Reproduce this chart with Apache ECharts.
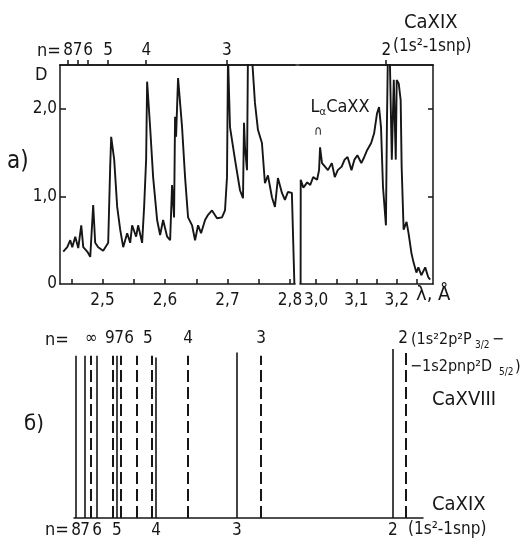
<!DOCTYPE html>
<html lang="ru">
<head>
<meta charset="UTF-8">
<title>CaXIX, CaXVIII</title>
<style>
  html, body { margin: 0; padding: 0; background: #fff; }
  #chart { width: 530px; height: 541px; }
</style>
</head>
<body>
<div id="chart"></div>
<script src="https://cdn.jsdelivr.net/npm/echarts@6/dist/echarts.min.js"></script>
<script>
// a) спектр, левая часть (λ, Å / D)
var lamLeft = [2.4372, 2.4436, 2.4484, 2.4516, 2.4564, 2.4612, 2.4660, 2.4692, 2.4756, 2.4804,
  2.4851, 2.4883, 2.4931, 2.5011, 2.5091, 2.5123, 2.5139, 2.5187, 2.5235, 2.5283,
  2.5331, 2.5395, 2.5443, 2.5474, 2.5538, 2.5570, 2.5634, 2.5666, 2.5698, 2.5714,
  2.5762, 2.5810, 2.5874, 2.5922, 2.5970, 2.6034, 2.6082, 2.6113, 2.6145, 2.6161,
  2.6177, 2.6209, 2.6273, 2.6321, 2.6369, 2.6433, 2.6481, 2.6529, 2.6577, 2.6641,
  2.6689, 2.6752, 2.6832, 2.6912, 2.6960, 2.6992, 2.7008, 2.7040, 2.7120, 2.7200,
  2.7248, 2.7264, 2.7280, 2.7312, 2.7327, 2.7391, 2.7439, 2.7487, 2.7551, 2.7599,
  2.7647, 2.7711, 2.7759, 2.7807, 2.7871, 2.7919, 2.7966, 2.8030, 2.8062, 2.8070];
var dLeft = [0.37, 0.42, 0.50, 0.42, 0.54, 0.41, 0.67, 0.42, 0.37, 0.31,
  0.90, 0.47, 0.42, 0.38, 0.47, 1.34, 1.68, 1.42, 0.88, 0.62,
  0.42, 0.58, 0.47, 0.67, 0.54, 0.67, 0.47, 0.88, 1.42, 2.31,
  1.79, 1.22, 0.73, 0.56, 0.73, 0.54, 0.50, 1.13, 0.76, 1.91,
  1.68, 2.35, 1.79, 1.22, 0.76, 0.67, 0.50, 0.67, 0.58, 0.73,
  0.79, 0.84, 0.75, 0.76, 0.84, 1.22, 2.60, 1.79, 1.42, 1.07,
  0.98, 1.84, 1.56, 1.30, 2.60, 2.60, 2.07, 1.76, 1.61, 1.15,
  1.24, 0.99, 0.88, 1.21, 1.04, 0.96, 1.05, 1.04, 1.02, 0.0];

// a) спектр, правая часть
var lamRight = [2.9615, 2.9618, 2.9683, 2.9780, 2.9854, 2.9927, 3.0024, 3.0073, 3.0098, 3.0146,
  3.0220, 3.0293, 3.0390, 3.0463, 3.0537, 3.0634, 3.0707, 3.0780, 3.0878, 3.0951,
  3.1024, 3.1122, 3.1195, 3.1268, 3.1366, 3.1439, 3.1512, 3.1561, 3.1610, 3.1659,
  3.1732, 3.1756, 3.1780, 3.1830, 3.1878, 3.1927, 3.1976, 3.2000, 3.2049, 3.2098,
  3.2122, 3.2171, 3.2244, 3.2293, 3.2366, 3.2415, 3.2488, 3.2537, 3.2610, 3.2707,
  3.2780, 3.2829];
var dRight = [0.0, 1.19, 1.10, 1.16, 1.13, 1.22, 1.19, 1.30, 1.56, 1.38,
  1.34, 1.30, 1.38, 1.22, 1.30, 1.34, 1.42, 1.45, 1.30, 1.42,
  1.47, 1.38, 1.45, 1.53, 1.61, 1.72, 1.95, 2.02, 1.79, 1.11,
  0.67, 1.79, 2.60, 2.55, 1.42, 2.33, 1.42, 2.33, 2.29, 2.10,
  1.34, 0.62, 0.71, 0.58, 0.35, 0.25, 0.13, 0.19, 0.10, 0.19,
  0.08, 0.05];

// линии CaXIX 1s2-1snp на верхней шкале
var nLeftPos = [2.445, 2.460, 2.477, 2.509, 2.570, 2.699];
var nLeftLab = ['8', '7', '6', '5', '4', '3'];
var nRightPos = [3.174];
var nRightLab = ['2'];
var lalphaPos = [3.0098, 1.56];

// шкала λ
var tickLeft = [2.45, 2.5, 2.55, 2.6, 2.65, 2.7, 2.75, 2.8];
var labLeft = [2.5, 2.6, 2.7, 2.8];
var tickRight = [3.0, 3.05, 3.1, 3.15, 3.2, 3.25];
var labRight = [3.0, 3.1, 3.2];
var dTicks = [1, 2];
var dLabels = [0, 1, 2];

// б) расчётные положения линий (условная шкала 0..100)
var xixPos = [0.6, 3.2, 6.6, 12.3, 23.5, 46.7, 91.4];
var xixH = [0.96, 0.96, 0.96, 0.96, 0.95, 0.98, 1.0];
var xixN = ['8', '7', '6', '5', '4', '3', '2'];
var xviiiPos = [4.9, 11.2, 13.5, 18.1, 22.3, 32.7, 53.6, 95.1];
var xviiiH = [0.96, 0.96, 0.96, 0.96, 0.96, 0.96, 0.96, 0.99];
var xviiiLabPos = [4.9, 10.3, 12.9, 15.8, 21.2, 32.7, 53.6, 94.3];
var xviiiN = ['∞', '9', '7', '6', '5', '4', '3', '2'];

var FONT = "'DejaVu Sans Condensed', 'Liberation Sans Narrow', 'DejaVu Sans', sans-serif";
var INK = '#161616';

function zip(a, b) {
  return a.map(function (v, i) { return [v, b[i]]; });
}
function comma(v) {
  return v === 0 ? '0' : v.toFixed(1).replace('.', ',');
}
function pick(pos, lab) {
  return function (v) {
    var i = pos.indexOf(v);
    return i < 0 ? '' : lab[i];
  };
}
// чётные / нечётные элементы: тесные подписи n раскладываются на две оси,
// иначе ECharts прячет соседнюю подпись
function every2(arr, k) {
  return arr.filter(function (v, i) { return i % 2 === k; });
}
// подписи: x,y = левый край и середина строки
function txt(x, y, s, size) {
  return { type: 'text', x: x, y: y, silent: true,
    style: { text: s, fill: INK, font: size + 'px ' + FONT, align: 'left', verticalAlign: 'middle' } };
}

var axLine = { show: true, onZero: false, lineStyle: { color: INK, width: 1.5 } };
var noLine = { show: false, onZero: false };
var lbl = { color: INK, fontSize: 17, fontFamily: FONT, hideOverlap: false };

var chart = echarts.init(document.getElementById('chart'));

var option = {
  backgroundColor: '#fff',
  animation: false,
  grid: [
    { left: 60, top: 65, width: 235, height: 219 },
    { left: 300, top: 65, width: 133, height: 219 },
    { left: 74, top: 349, width: 349, height: 169 },
    { left: 60, top: 65, width: 373, height: 219 }
  ],
  xAxis: [
    { gridIndex: 0, type: 'value', position: 'bottom', min: 2.432, max: 2.808,
      axisLine: axLine, splitLine: { show: false },
      axisTick: { inside: true, length: 5, customValues: tickLeft, lineStyle: { color: INK, width: 1.5 } },
      axisLabel: Object.assign({ margin: 8, customValues: labLeft, formatter: comma }, lbl) },
    { gridIndex: 0, type: 'value', position: 'top', min: 2.432, max: 2.808,
      axisLine: axLine, splitLine: { show: false },
      axisTick: { length: 5, customValues: nLeftPos, lineStyle: { color: INK, width: 1.5 } },
      axisLabel: Object.assign({ margin: 6, customValues: every2(nLeftPos, 0), formatter: pick(nLeftPos, nLeftLab) }, lbl) },
    { gridIndex: 1, type: 'value', position: 'bottom', min: 2.96, max: 3.29,
      axisLine: axLine, splitLine: { show: false },
      axisTick: { inside: true, length: 5, customValues: tickRight, lineStyle: { color: INK, width: 1.5 } },
      axisLabel: Object.assign({ margin: 8, customValues: labRight, formatter: comma }, lbl) },
    { gridIndex: 1, type: 'value', position: 'top', min: 2.96, max: 3.29,
      axisLine: axLine, splitLine: { show: false },
      axisTick: { length: 5, customValues: nRightPos, lineStyle: { color: INK, width: 1.5 } },
      axisLabel: Object.assign({ margin: 6, customValues: nRightPos, formatter: pick(nRightPos, nRightLab) }, lbl) },
    { gridIndex: 2, type: 'value', position: 'bottom', min: 0, max: 100,
      axisLine: axLine, splitLine: { show: false }, axisTick: { show: false },
      axisLabel: Object.assign({ margin: 4, customValues: every2(xixPos, 0), formatter: pick(xixPos, xixN) }, lbl) },
    { gridIndex: 2, type: 'value', position: 'top', min: 0, max: 100,
      axisLine: noLine, splitLine: { show: false }, axisTick: { show: false },
      axisLabel: Object.assign({ margin: 2, customValues: xviiiLabPos, formatter: pick(xviiiLabPos, xviiiN) }, lbl) },
    { gridIndex: 3, type: 'value', position: 'top', min: 0, max: 1,
      axisLine: axLine, splitLine: { show: false }, axisTick: { show: false }, axisLabel: { show: false } },
    // вторые половины подписей n
    { gridIndex: 0, type: 'value', position: 'top', offset: 0, min: 2.432, max: 2.808,
      axisLine: noLine, splitLine: { show: false }, axisTick: { show: false },
      axisLabel: Object.assign({ margin: 6, customValues: every2(nLeftPos, 1), formatter: pick(nLeftPos, nLeftLab) }, lbl) },
    { gridIndex: 2, type: 'value', position: 'bottom', offset: 0, min: 0, max: 100,
      axisLine: noLine, splitLine: { show: false }, axisTick: { show: false },
      axisLabel: Object.assign({ margin: 4, customValues: every2(xixPos, 1), formatter: pick(xixPos, xixN) }, lbl) }
  ],
  yAxis: [
    { gridIndex: 0, type: 'value', position: 'left', min: 0, max: 2.5,
      axisLine: axLine, splitLine: { show: false },
      axisTick: { inside: true, length: 6, customValues: dTicks, lineStyle: { color: INK, width: 1.5 } },
      axisLabel: Object.assign({ margin: 3, customValues: dLabels, formatter: comma }, lbl) },
    { gridIndex: 1, type: 'value', position: 'right', min: 0, max: 2.5,
      axisLine: axLine, splitLine: { show: false },
      axisTick: { inside: true, length: 5, customValues: dTicks, lineStyle: { color: INK, width: 1.5 } },
      axisLabel: { show: false } },
    { gridIndex: 2, type: 'value', min: 0, max: 1, show: false },
    { gridIndex: 3, type: 'value', min: 0, max: 1, show: false }
  ],
  series: [
    { type: 'line', xAxisIndex: 0, yAxisIndex: 0, data: zip(lamLeft, dLeft),
      symbol: 'none', clip: true, lineStyle: { color: INK, width: 1.9 } },
    { type: 'line', xAxisIndex: 2, yAxisIndex: 1, data: zip(lamRight, dRight),
      symbol: 'none', clip: true, lineStyle: { color: INK, width: 1.9 },
      markPoint: {
        symbolSize: 0, silent: true,
        data: [
          { coord: lalphaPos, label: { show: true, offset: [20, -40],
              formatter: '{a|L}{s|α}{a|CaXX}',
              rich: { a: { fontSize: 18, fontFamily: FONT, color: INK },
                      s: { fontSize: 11, fontFamily: FONT, color: INK, padding: [10, 0, 0, 0] } } } },
          { coord: lalphaPos, label: { show: true, offset: [-2, -16], formatter: '∩',
              fontSize: 13, color: INK, fontFamily: FONT } }
        ]
      } },
    // пустые серии, чтобы вспомогательные оси рисовались
    { type: 'line', xAxisIndex: 6, yAxisIndex: 3, data: [], symbol: 'none' },
    { type: 'line', xAxisIndex: 7, yAxisIndex: 0, data: [], symbol: 'none' },
    { type: 'line', xAxisIndex: 8, yAxisIndex: 2, data: [], symbol: 'none' },
    { type: 'lines', coordinateSystem: 'cartesian2d', xAxisIndex: 4, yAxisIndex: 2, polyline: false,
      lineStyle: { color: INK, width: 1.6, type: 'solid', opacity: 1 },
      data: xixPos.map(function (p, i) { return { coords: [[p, 0], [p, xixH[i]]] }; }) },
    { type: 'lines', coordinateSystem: 'cartesian2d', xAxisIndex: 4, yAxisIndex: 2, polyline: false,
      lineStyle: { color: INK, width: 2, type: [12, 5], opacity: 1 },
      data: xviiiPos.map(function (p, i) { return { coords: [[p, 0], [p, xviiiH[i]]] }; }) }
  ],
  graphic: [
    txt(37, 51, 'n=', 18),
    txt(35, 75, 'D', 18),
    txt(7, 162, 'a)', 24),
    txt(404, 23, 'CaXIX', 20),
    txt(393, 47, '(1s²-1snp)', 17),
    txt(416, 295, 'λ, Å', 20),
    txt(45, 340, 'n=', 18),
    txt(24, 424, 'б)', 22),
    txt(411, 340, '(1s²2p²P', 16),
    txt(475, 345, '3/2', 10),
    txt(492, 340, '−', 16),
    txt(410, 367, '−1s2pnp²D', 16),
    txt(499, 372, '5/2', 10),
    txt(515, 367, ')', 16),
    txt(432, 400, 'CaXVIII', 20),
    txt(432, 505, 'CaXIX', 20),
    txt(45, 530, 'n=', 18),
    txt(408, 530, '(1s²-1snp)', 17)
  ]
};

chart.setOption(option);
</script>
</body>
</html>
